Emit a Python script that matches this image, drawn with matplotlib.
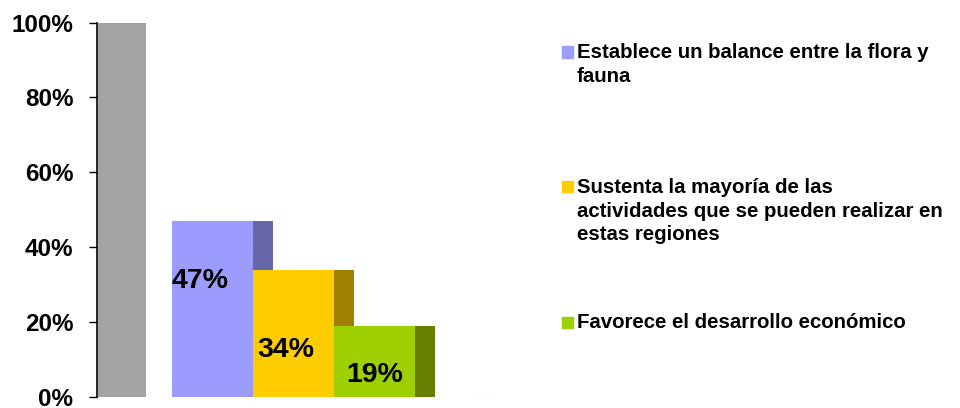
import matplotlib
matplotlib.use("Agg")
import matplotlib.pyplot as plt
from matplotlib.patches import Rectangle

# data
categories = ["Establece un balance entre la flora y\nfauna",
              "Sustenta la mayoría de las\nactividades que se pueden realizar en\nestas regiones",
              "Favorece el desarrollo económico"]
values = [47, 34, 19]
total = 100
value_labels = ["47%", "34%", "19%"]
yticks = [0, 20, 40, 60, 80, 100]
ytick_labels = ["0%", "20%", "40%", "60%", "80%", "100%"]

# styles / layout
front_colors = ["#9C9CFF", "#FFCC00", "#9ECF00"]
side_colors = ["#6666A8", "#A08000", "#667F00"]
gray = "#A3A3A3"
label_y = [31, 12.5, 5.8]      # vertical position of value labels
label_dx = [0.0, 0.05, 0.15]
legend_y = [52, 187, 322]      # pixel rows of legend entries (from top)

plt.rcParams["font.family"] = ["Liberation Sans", "DejaVu Sans"]
plt.rcParams["font.weight"] = "bold"

fig = plt.figure(figsize=(9.6, 4.08), dpi=100)
ax = fig.add_axes([97 / 960, 11.3 / 408, (493 - 97) / 960, 374 / 408])

# total bar
ax.bar(0.01, total, width=0.6, align="edge", color=gray, edgecolor="none")

# value bars with darker side face
x0 = 0.925
for i, v in enumerate(values):
    left = x0 + i
    ax.bar(left, v, width=1.0, align="edge", color=front_colors[i], edgecolor="none", zorder=2)
    ax.bar(left + 1.0, v, width=0.25, align="edge", color=side_colors[i], edgecolor="none", zorder=1)
    ax.text(left + label_dx[i], label_y[i], value_labels[i],
            fontsize=20.5, fontweight="bold", va="center", ha="left", zorder=3)

# faint baseline remnant
ax.plot([4.6, 4.89], [0, 0], color="#EEEEEE", lw=1, zorder=0)

ax.set_xlim(0, 4.89)
ax.set_ylim(0, 100)
ax.set_yticks(yticks)
ax.set_yticklabels(ytick_labels, fontsize=17.5, fontweight="bold")
ax.set_xticks([])
ax.tick_params(axis="y", direction="out", length=6, width=1, pad=11)
for s in ["top", "right", "bottom"]:
    ax.spines[s].set_visible(False)
ax.spines["left"].set_linewidth(1.2)

# legend
for i, lab in enumerate(categories):
    yf = 1 - legend_y[i] / 408
    fig.patches.append(Rectangle((562 / 960, yf - 5.5 / 408), 11 / 960, 11 / 408,
                                 transform=fig.transFigure, color=front_colors[i]))
    fig.text(577 / 960, yf + 8.5 / 408, lab, fontsize=14.7, fontweight="bold",
             va="top", ha="left", linespacing=1.3)

fig.savefig("out.png", dpi=100)
